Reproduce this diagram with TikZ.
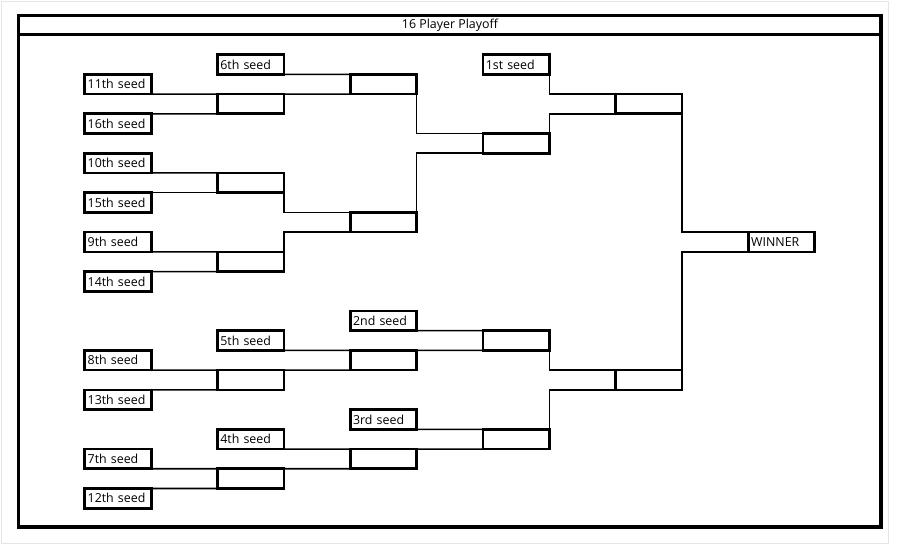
\documentclass[tikz,border=0pt]{standalone}
\usepackage{fontspec}
\setmainfont{Open Sans}
\begin{document}
\begin{tikzpicture}[x=0.75pt,y=-0.75pt,
  slot/.style={draw=black, fill=white, line width=2pt, rectangle, outer sep=0pt,
    minimum width=49.76pt, minimum height=14.79pt, inner xsep=2pt, inner ysep=0pt,
    text width=45.5pt, align=left, font=\fontsize{9.3}{10}\selectfont},
  link/.style={draw=black, line width=1.15pt},
  frame/.style={draw=black, line width=2.3pt}]
\useasboundingbox (0,0) rectangle (900,546);
\fill[white] (0,0) rectangle (900,546);
\draw[black!10, line width=0.75pt] (1,1) rectangle (888,543);
% frame
\draw[frame] (18.5,15.5) rectangle (881,527);
\draw[black, line width=1.6pt] (18.5,34.5) -- (881,34.5);
\node[font=\fontsize{9.3}{10}\selectfont] (title) at (450,25) {16 Player Playoff};
% column A
\node[slot] (s11) at (118,84.22) {11th seed};
\node[slot] (s16) at (118,123.66) {16th seed};
\node[slot] (s10) at (118,163.1) {10th seed};
\node[slot] (s15) at (118,202.54) {15th seed};
\node[slot] (s9) at (118,241.98) {9th seed};
\node[slot] (s14) at (118,281.42) {14th seed};
\node[slot] (s8) at (118,360.3) {8th seed};
\node[slot] (s13) at (118,399.74) {13th seed};
\node[slot] (s7) at (118,458.9) {7th seed};
\node[slot] (s12) at (118,498.34) {12th seed};
% column B
\node[slot] (s6) at (250.7,64.5) {6th seed};
\node[slot] (b1) at (250.7,103.94) {};
\node[slot] (b2) at (250.7,182.82) {};
\node[slot] (b3) at (250.7,261.7) {};
\node[slot] (s5) at (250.7,340.58) {5th seed};
\node[slot] (b4) at (250.7,380.02) {};
\node[slot] (s4) at (250.7,439.18) {4th seed};
\node[slot] (b5) at (250.7,478.62) {};
% column C
\node[slot] (c1) at (383.4,84.22) {};
\node[slot] (c2) at (383.4,222.26) {};
\node[slot] (s2) at (383.4,320.86) {2nd seed};
\node[slot] (c3) at (383.4,360.3) {};
\node[slot] (s3) at (383.4,419.46) {3rd seed};
\node[slot] (c4) at (383.4,458.9) {};
% column D
\node[slot] (s1) at (516.1,64.5) {1st seed};
\node[slot] (d1) at (516.1,143.38) {};
\node[slot] (d2) at (516.1,340.58) {};
\node[slot] (d3) at (516.1,439.18) {};
% column E
\node[slot] (e1) at (648.8,103.94) {};
\node[slot] (e2) at (648.8,380.02) {};
% winner
\node[slot] (w) at (781.5,241.98) {WINNER};
% connectors upper half
\draw[link] (s11.south east) -- (b1.north west);
\draw[link] (s16.north east) -- (b1.south west);
\draw[link] (s6.south east) -- (c1.north west);
\draw[link] (b1.north east) -- (c1.south west);
\draw[link] (s10.south east) -- (b2.north west);
\draw[link] (s15.north east) -- (b2.south west);
\draw[link] (s9.south east) -- (b3.north west);
\draw[link] (s14.north east) -- (b3.south west);
\draw[link] (b2.south east) |- (c2.north west);
\draw[link] (b3.north east) |- (c2.south west);
\draw[link] (c1.south east) |- (d1.north west);
\draw[link] (c2.north east) |- (d1.south west);
\draw[link] (s1.south east) |- (e1.north west);
\draw[link] (d1.north east) |- (e1.south west);
\draw[link] (e1.south east) |- (w.north west);
\draw[link] (e2.north east) |- (w.south west);
% connectors lower half
\draw[link] (s8.south east) -- (b4.north west);
\draw[link] (s13.north east) -- (b4.south west);
\draw[link] (s5.south east) -- (c3.north west);
\draw[link] (b4.north east) -- (c3.south west);
\draw[link] (s2.south east) -- (d2.north west);
\draw[link] (c3.north east) -- (d2.south west);
\draw[link] (s7.south east) -- (b5.north west);
\draw[link] (s12.north east) -- (b5.south west);
\draw[link] (s4.south east) -- (c4.north west);
\draw[link] (b5.north east) -- (c4.south west);
\draw[link] (s3.south east) -- (d3.north west);
\draw[link] (c4.north east) -- (d3.south west);
\draw[link] (d2.south east) |- (e2.north west);
\draw[link] (d3.north east) |- (e2.south west);
\end{tikzpicture}
\end{document}
